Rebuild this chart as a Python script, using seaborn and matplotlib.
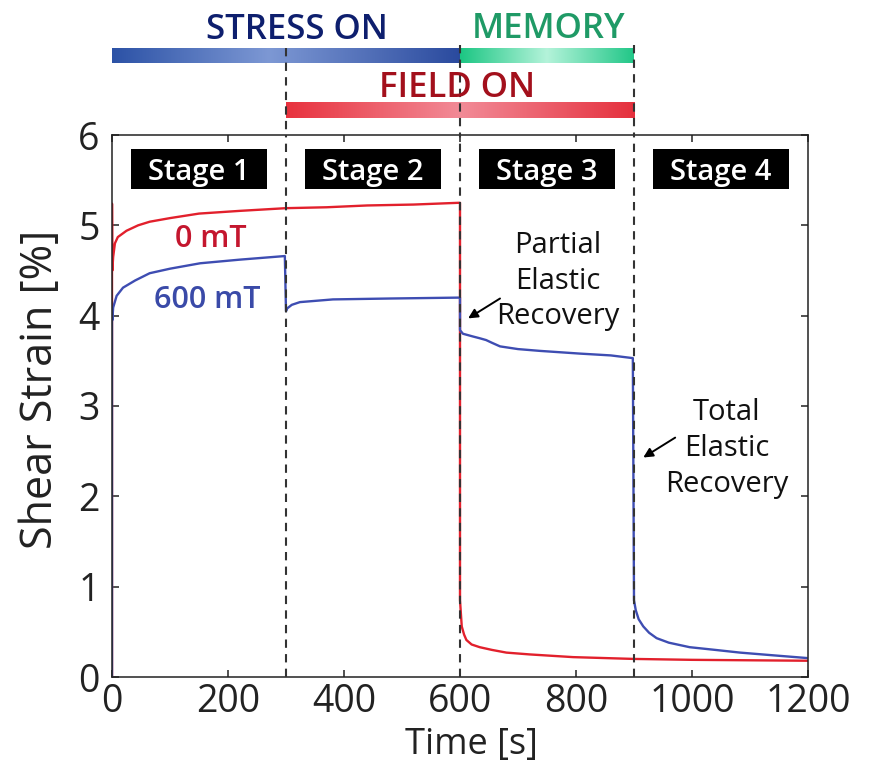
import numpy as np
import pandas as pd
import matplotlib
matplotlib.use("Agg")
import matplotlib.pyplot as plt
import seaborn as sns
from matplotlib.colors import LinearSegmentedColormap
from matplotlib.patches import Rectangle

# ---------------- data ----------------
stage_bounds = [0, 300, 600, 900, 1200]
stage_labels = ["Stage 1", "Stage 2", "Stage 3", "Stage 4"]

red_t = [0, 0, 0.5, 2, 5, 10, 25, 45, 65, 100, 150, 220, 300, 370, 440, 520, 600,
         600, 603, 607, 611, 620, 634, 655, 680, 720, 795, 900, 1000, 1100, 1200]
red_s = [0, 5.24, 4.5, 4.65, 4.8, 4.87, 4.94, 5.0, 5.04, 5.08, 5.13, 5.16, 5.19, 5.2, 5.22, 5.23, 5.25,
         0.85, 0.56, 0.47, 0.41, 0.36, 0.33, 0.3, 0.27, 0.25, 0.22, 0.2, 0.19, 0.185, 0.18]

blue_t = [0, 0, 0.5, 2, 8, 19, 40, 65, 100, 152, 220, 298,
          300, 302, 310, 324, 381, 480, 600,
          600, 605, 622, 634, 645, 655, 669, 700, 738, 807, 860, 898,
          900, 903, 908, 916, 926, 939, 960, 996, 1040, 1083, 1140, 1198]
blue_s = [0, 4.05, 3.95, 4.09, 4.22, 4.31, 4.39, 4.47, 4.52, 4.58, 4.62, 4.66,
          4.05, 4.08, 4.12, 4.15, 4.18, 4.19, 4.2,
          3.84, 3.8, 3.77, 3.75, 3.73, 3.7, 3.66, 3.63, 3.61, 3.58, 3.56, 3.53,
          0.85, 0.74, 0.64, 0.56, 0.49, 0.43, 0.38, 0.33, 0.3, 0.27, 0.24, 0.21]

red_df = pd.DataFrame({"Time [s]": red_t, "Shear Strain [%]": red_s})
blue_df = pd.DataFrame({"Time [s]": blue_t, "Shear Strain [%]": blue_s})

RED = "#e2202c"
BLUE = "#3e4db2"

# ---------------- style ----------------
sns.set_style("ticks")
plt.rcParams["font.family"] = ["Open Sans", "DejaVu Sans"]
plt.rcParams["axes.linewidth"] = 1.1
plt.rcParams["axes.edgecolor"] = "#222222"

fig = plt.figure(figsize=(8.71, 7.64), dpi=100)
ax = fig.add_axes([112 / 871, 1 - 677 / 764, 696 / 871, 542 / 764])

sns.lineplot(data=red_df, x="Time [s]", y="Shear Strain [%]", color=RED, lw=1.7,
             estimator=None, sort=False, ax=ax, zorder=2)
sns.lineplot(data=blue_df, x="Time [s]", y="Shear Strain [%]", color=BLUE, lw=1.7,
             estimator=None, sort=False, ax=ax, zorder=2.1)

ax.set_xlim(0, 1200)
ax.set_ylim(0, 6)
ax.set_xticks(range(0, 1201, 200))
ax.set_yticks(range(0, 7))
ax.tick_params(direction="in", length=5, width=1.1, top=True, right=True,
               labelsize=27, colors="#222222")
ax.tick_params(axis="x", pad=4)
ax.tick_params(axis="y", pad=9)
ax.set_xlabel("Time [s]", fontsize=26, color="#222222")
ax.set_ylabel("Shear Strain [%]", fontsize=31, color="#222222")
ax.xaxis.set_label_coords((471 - 112) / 696, -0.092)
ax.yaxis.set_label_coords((63 - 112) / 696, 0.53)
for s in ax.spines.values():
    s.set_visible(True)

# dashed stage separators
for b in stage_bounds[1:-1]:
    ax.axvline(b, color="#333333", lw=1.5, dashes=(4, 3), zorder=3)

# stage label boxes
for i, lab in enumerate(stage_labels):
    c = 0.5 * (stage_bounds[i] + stage_bounds[i + 1])
    ax.add_patch(Rectangle((c - 117, 5.40), 234, 0.45, facecolor="black",
                           edgecolor="none", zorder=4))
    ax.text(c, 5.50, lab, ha="center", va="baseline", color="white",
            fontsize=21, fontweight="semibold", zorder=5)

ax.text(171, 4.76, "0 mT", ha="center", va="baseline", color="#c4162e",
        fontsize=22, fontweight="semibold")
ax.text(164, 4.08, "600 mT", ha="center", va="baseline", color="#3a4aa8",
        fontsize=22, fontweight="semibold")

ax.text(769, 4.38, "Partial\nElastic\nRecovery", ha="center", va="center",
        fontsize=21, linespacing=1.3, color="#111111")
ax.annotate("", xy=(614, 3.97), xytext=(669, 4.19),
            arrowprops=dict(arrowstyle="-|>", color="black", lw=1.4,
                            mutation_scale=14, shrinkA=0, shrinkB=0))
ax.text(1060, 2.53, "Total\nElastic\nRecovery", ha="center", va="center",
        fontsize=21, linespacing=1.3, color="#111111")
ax.annotate("", xy=(916, 2.43), xytext=(971, 2.65),
            arrowprops=dict(arrowstyle="-|>", color="black", lw=1.4,
                            mutation_scale=14, shrinkA=0, shrinkB=0))

# ---------------- header (phase bars) ----------------
hax = fig.add_axes([112 / 871, 1 - 135 / 764, 696 / 871, 135 / 764])
hax.set_autoscale_on(False)
hax.set_xlim(0, 1200)
hax.set_ylim(135, 0)
hax.axis("off")

grad = np.linspace(0, 1, 256).reshape(1, -1)
blue_cm = LinearSegmentedColormap.from_list(
    "b", [(0, "#2c52a6"), (0.45, "#7d98d4"), (1, "#2a4a9e")])
green_cm = LinearSegmentedColormap.from_list(
    "g", [(0, "#1cc683"), (0.5, "#b4f3da"), (1, "#22c788")])
red_cm = LinearSegmentedColormap.from_list(
    "r", [(0, "#e8323e"), (0.5, "#f28b97"), (1, "#e5303d")])

hax.imshow(grad, extent=[0, 600, 63, 48], aspect="auto", cmap=blue_cm, zorder=1)
hax.imshow(grad, extent=[600, 900, 63, 48], aspect="auto", cmap=green_cm, zorder=1)
hax.imshow(grad, extent=[300, 900, 118, 102], aspect="auto", cmap=red_cm, zorder=1)

for b, top in zip(stage_bounds[1:-1], [48, 45, 45]):
    hax.plot([b, b], [top, 135], color="#333333", lw=1.5, dashes=(4, 3),
             clip_on=False, zorder=3)

hax.text(319, 39, "STRESS ON", ha="center", va="baseline", color="#0e1f6e",
         fontsize=25, fontweight="semibold")
hax.text(752, 38, "MEMORY", ha="center", va="baseline", color="#1f9a66",
         fontsize=25, fontweight="semibold")
hax.text(595, 97, "FIELD ON", ha="center", va="baseline", color="#a3101c",
         fontsize=25, fontweight="semibold")

fig.savefig("out.png", dpi=100)
